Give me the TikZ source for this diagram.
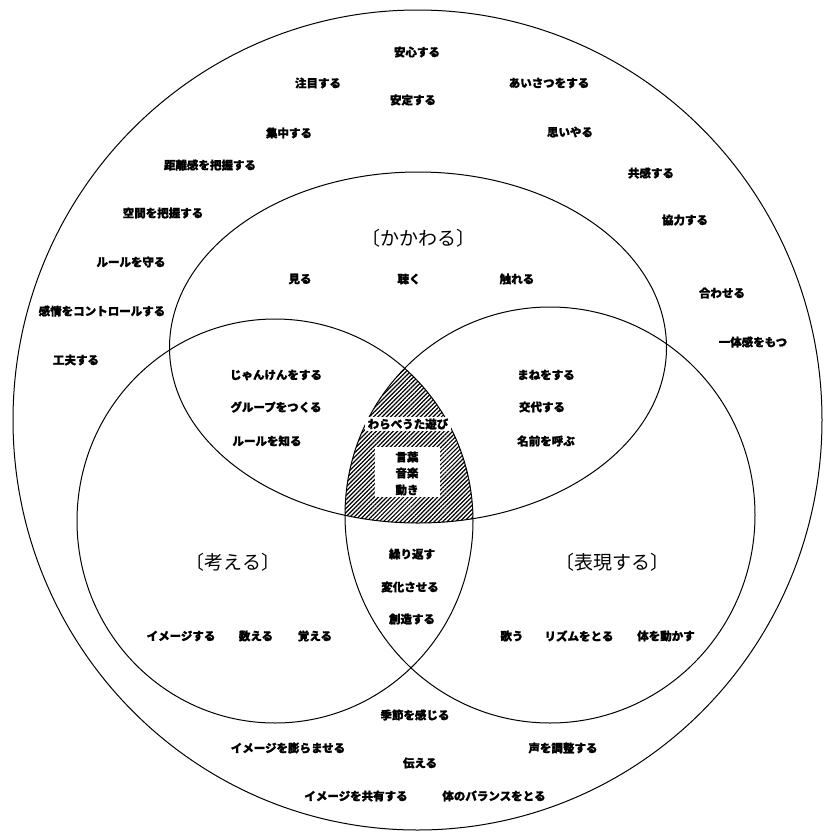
\documentclass[tikz,border=0pt]{standalone}
\usepackage{fontspec}
\setmainfont{Noto Sans CJK JP}[BoldFeatures={FakeBold=1.2}]
\usetikzlibrary{patterns.meta}
\tikzset{
  lbl/.style={font=\bfseries\fontsize{11.5}{12}\selectfont, inner sep=1pt},
  head/.style={font=\fontsize{19}{20}\selectfont, inner sep=1pt},
  ring/.style={draw=black, line width=1pt},
}
\begin{document}
\begin{tikzpicture}[x=1pt,y=-1pt]
\useasboundingbox (0,0) rectangle (823,833);
% hatched triple intersection
\begin{scope}
  \clip (275,521) ellipse [x radius=198pt, y radius=202pt];
  \clip (550,515) ellipse [x radius=205pt, y radius=208pt];
  \fill[pattern={Lines[angle=45,distance=3pt,line width=1.2pt]}] (418,347.5) ellipse [x radius=248.5pt, y radius=175.5pt];
\end{scope}
% ellipses
\draw[ring] (417.5,420) ellipse [x radius=404.5pt, y radius=410pt];
\draw[ring] (418,347.5) ellipse [x radius=248.5pt, y radius=175.5pt];
\draw[ring] (275,521) ellipse [x radius=198pt, y radius=202pt];
\draw[ring] (550,515) ellipse [x radius=205pt, y radius=208pt];
% white boxes in hatched area
\fill[white] (365,417) rectangle (451,431);
\fill[white] (375,447) rectangle (440,497);
\node[lbl] (warabe) at (408,424) {わらべうた遊び};
\node[lbl] (kotoba) at (407,457) {言葉};
\node[lbl] (ongaku) at (407,473) {音楽};
\node[lbl] (ugoki) at (407,490) {動き};
% headings
\node[head] (h1) at (418,238) {〔かかわる〕};
\node[head] (h2) at (233,562) {〔考える〕};
\node[head] (h3) at (612,562) {〔表現する〕};
% outer ring labels
\node[lbl] (o1) at (417,52) {安心する};
\node[lbl] (o2) at (318,83) {注目する};
\node[lbl] (o3) at (413,100) {安定する};
\node[lbl] (o4) at (549,83) {あいさつをする};
\node[lbl] (o5) at (289,133) {集中する};
\node[lbl] (o6) at (570,132) {思いやる};
\node[lbl] (o7) at (210,165) {距離感を把握する};
\node[lbl] (o8) at (651,173) {共感する};
\node[lbl] (o9) at (163,213) {空間を把握する};
\node[lbl] (o10) at (685,220) {協力する};
\node[lbl] (o11) at (131,262) {ルールを守る};
\node[lbl] (o12) at (722,293) {合わせる};
\node[lbl] (o13) at (102,311) {感情をコントロールする};
\node[lbl] (o14) at (753,342) {一体感をもつ};
\node[lbl] (o15) at (76,360) {工夫する};
\node[lbl] (o16) at (415,715) {季節を感じる};
\node[lbl] (o17) at (288,748) {イメージを膨らませる};
\node[lbl] (o18) at (563,748) {声を調整する};
\node[lbl] (o19) at (420,763) {伝える};
\node[lbl] (o20) at (356,796) {イメージを共有する};
\node[lbl] (o21) at (494,796) {体のバランスをとる};
% top ellipse
\node[lbl] (t1) at (300,279) {見る};
\node[lbl] (t2) at (409,279) {聴く};
\node[lbl] (t3) at (517,279) {触れる};
% top-left overlap
\node[lbl] (tl1) at (276,375) {じゃんけんをする};
\node[lbl] (tl2) at (276,407) {グループをつくる};
\node[lbl] (tl3) at (267,441) {ルールを知る};
% top-right overlap
\node[lbl] (tr1) at (546,375) {まねをする};
\node[lbl] (tr2) at (542,407) {交代する};
\node[lbl] (tr3) at (546,441) {名前を呼ぶ};
% bottom overlap
\node[lbl] (b1) at (412,554) {繰り返す};
\node[lbl] (b2) at (410,587) {変化させる};
\node[lbl] (b3) at (412,619) {創造する};
% left circle
\node[lbl] (l1) at (181,636) {イメージする};
\node[lbl] (l2) at (256,636) {数える};
\node[lbl] (l3) at (315,636) {覚える};
% right circle
\node[lbl] (r1) at (512,636) {歌う};
\node[lbl] (r2) at (579,636) {リズムをとる};
\node[lbl] (r3) at (666,636) {体を動かす};
\end{tikzpicture}
\end{document}
